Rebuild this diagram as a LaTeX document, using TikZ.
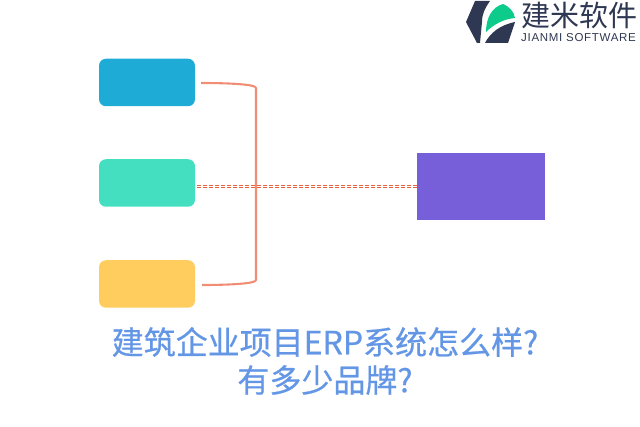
\documentclass[tikz,border=0pt]{standalone}
\usepackage{fontspec}
\setmainfont{Liberation Sans}
\newfontfamily\cjk{Noto Sans CJK SC}
\newfontfamily\cjktitle[FakeBold=0.6]{Noto Sans CJK SC}
\newfontfamily\logosub[LetterSpace=6]{Liberation Sans}
\definecolor{boxblue}{HTML}{1EACD6}
\definecolor{boxgreen}{HTML}{44DFC0}
\definecolor{boxyellow}{HTML}{FFCD5E}
\definecolor{boxpurple}{HTML}{775FD9}
\definecolor{bracecol}{HTML}{F28D75}
\definecolor{linkcol}{HTML}{E8603C}
\definecolor{titleblue}{HTML}{6496E6}
\definecolor{logonavy}{HTML}{2F3853}
\definecolor{logogreen}{HTML}{0CCB8B}
\tikzset{
  itembox/.style={minimum width=96pt,minimum height=47.5pt,rounded corners=7pt,inner sep=0pt},
  titletext/.style={font=\cjktitle\fontsize{32pt}{36pt}\selectfont,text=titleblue,inner sep=0pt},
  bracket/.style={draw=bracecol,line width=2.1pt},
  link/.style={draw=linkcol,line width=.8pt,dash pattern=on 4pt off 2pt}
}
\begin{document}
\begin{tikzpicture}[x=1pt,y=-1pt]
  \useasboundingbox (0,0) rectangle (640,427);

  \node[itembox,fill=boxblue] (top) at (147,82.5) {};
  \node[itembox,fill=boxgreen] (mid) at (147,183) {};
  \node[itembox,fill=boxyellow] (low) at (147,284) {};
  \node[fill=boxpurple,minimum width=128pt,minimum height=67pt,inner sep=0pt] (sys) at (481,186.5) {};

  \coordinate (topend) at (201,83);
  \coordinate (lowend) at (202,285);
  \draw[bracket] (topend) .. controls (225,83) and (256,84) .. (256,88) -- (256,280) .. controls (256,284) and (225,285) .. (lowend);

  \coordinate (midup) at (195,185.2);
  \coordinate (middown) at (195,187.4);
  \coordinate (sysup) at (417,185.2);
  \coordinate (sysdown) at (417,187.4);
  \draw[link] (sysup) -- (midup);
  \draw[link] (sysdown) -- (middown);

  % logo
  \fill[logonavy] (475,1) -- (490,1) .. controls (485,8) and (482,14) .. (482,22) -- (480,43) -- (477,43) -- (466,22) -- cycle;
  \fill[logogreen] (486,32) .. controls (486,18) and (492,7) .. (503,4) .. controls (510,7) and (514,12) .. (515,18) .. controls (504,19) and (494,24) .. (486,32) -- cycle;
  \fill[logonavy] (485,43) .. controls (490,33) and (500,25) .. (515,22) -- (508,43) -- cycle;
  \node[font=\cjk\fontsize{29pt}{30pt}\selectfont,text=logonavy,inner sep=0pt] (brand) at (579.5,15) {建米软件};
  \node[font=\logosub\fontsize{11.5pt}{13pt}\selectfont,text=logonavy,inner sep=0pt] (brandsub) at (578.5,38) {JIANMI SOFTWARE};

  % title
  \node[titletext] (titlea) at (325,342) {建筑企业项目ERP系统怎么样?};
  \node[titletext] (titleb) at (325,380) {有多少品牌?};
\end{tikzpicture}
\end{document}
